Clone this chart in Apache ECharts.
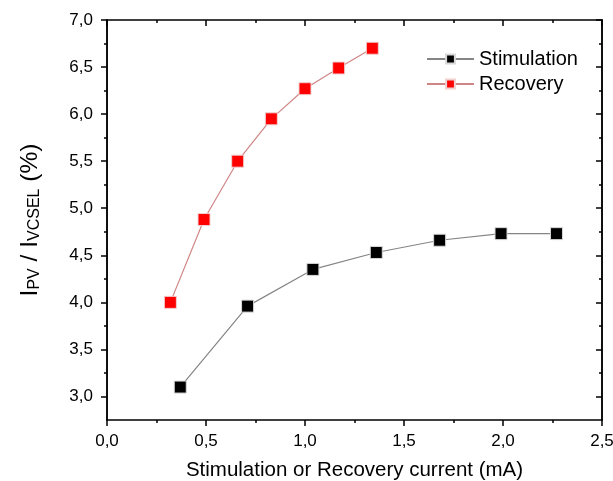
<!DOCTYPE html>
<html>
<head>
<meta charset="utf-8">
<script src="https://cdn.jsdelivr.net/npm/echarts@6/dist/echarts.min.js"></script>
<style>
  html, body { margin: 0; padding: 0; background: #fff; }
  #chart { width: 613px; height: 481px; }
</style>
</head>
<body>
<div id="chart"></div>
<script>
// Photovoltaic-to-VCSEL current ratio versus drive current
const stimCurrent = [0.37, 0.71, 1.04, 1.36, 1.68, 1.99, 2.27];
const stimRatio   = [3.10, 3.96, 4.35, 4.53, 4.66, 4.73, 4.73];
const recCurrent  = [0.32, 0.49, 0.66, 0.83, 1.00, 1.17, 1.34];
const recRatio    = [4.00, 4.88, 5.50, 5.95, 6.27, 6.49, 6.70];

const yMajorTicks = [3.0, 3.5, 4.0, 4.5, 5.0, 5.5, 6.0, 6.5, 7.0];
const yMinorTicks = [3.25, 3.75, 4.25, 4.75, 5.25, 5.75, 6.25, 6.75];

const FONT = '"Liberation Sans", Arial, sans-serif';
const comma = v => v.toFixed(1).replace('.', ',');
const zip = (xs, ys) => xs.map((x, i) => [x, ys[i]]);

const axisLine = { show: true, onZero: false, lineStyle: { color: '#000', width: 1.5 } };

function yAxisDef(position, ticks, len, inside, withLabels) {
  return {
    type: 'value', position, min: 2.75, max: 7.0,
    axisLine, splitLine: { show: false },
    axisTick: { show: true, inside, length: len, customValues: ticks,
                lineStyle: { color: '#000', width: 1.5 } },
    axisLabel: withLabels
      ? { show: true, customValues: ticks, formatter: comma, color: '#000',
          fontFamily: FONT, fontSize: 17, margin: 14 }
      : { show: false }
  };
}

function xAxisDef(position, inside, withLabels) {
  return {
    type: 'value', position, min: 0, max: 2.5, interval: 0.5,
    axisLine, splitLine: { show: false },
    axisTick: { show: true, inside, length: 6, lineStyle: { color: '#000', width: 1.5 } },
    minorTick: { show: true, splitNumber: 2, length: 3, lineStyle: { color: '#000', width: 1.5 } },
    axisLabel: withLabels
      ? { show: true, formatter: comma, color: '#000', fontFamily: FONT, fontSize: 17, margin: 13 }
      : { show: false }
  };
}

const chart = echarts.init(document.getElementById('chart'), null, { renderer: 'canvas' });

const xMain = xAxisDef('bottom', false, true);
xMain.name = 'Stimulation or Recovery current (mA)';
xMain.nameLocation = 'middle';
xMain.nameGap = 40;
xMain.nameTextStyle = { color: '#000', fontFamily: FONT, fontSize: 20.5 };

const yMain = yAxisDef('left', yMajorTicks, 6, false, true);
yMain.name = '{m|I}{s|PV}{m| / I}{s|VCSEL}{m| (%)}';
yMain.nameLocation = 'middle';
yMain.nameGap = 64;
yMain.nameTextStyle = {
  color: '#000', fontFamily: FONT,
  rich: {
    m: { fontSize: 24.5, fontFamily: FONT, color: '#000', lineHeight: 30, verticalAlign: 'bottom' },
    s: { fontSize: 16, fontFamily: FONT, color: '#000', lineHeight: 14, verticalAlign: 'bottom' }
  }
};

chart.setOption({
  backgroundColor: '#fff',
  animation: false,
  grid: { left: 107, right: 11, top: 20, bottom: 61, outerBoundsMode: 'none' },
  legend: {
    left: 421, top: 44, orient: 'vertical',
    itemWidth: 47, itemHeight: 11, itemGap: 5,
    textStyle: { color: '#000', fontFamily: FONT, fontSize: 20 },
    data: ['Stimulation', 'Recovery']
  },
  xAxis: [xMain, xAxisDef('top', true, false)],
  yAxis: [
    yMain,
    yAxisDef('left', yMinorTicks, 3, false, false),
    yAxisDef('right', yMajorTicks, 6, true, false),
    yAxisDef('right', yMinorTicks, 3, true, false)
  ],
  series: [
    {
      name: 'Stimulation', type: 'line', xAxisIndex: 0, yAxisIndex: 0,
      data: zip(stimCurrent, stimRatio),
      symbol: 'rect', symbolSize: 12,
      lineStyle: { color: '#858585', width: 1.2 },
      itemStyle: { color: '#000', borderColor: '#d8d8d8', borderWidth: 1 }
    },
    {
      name: 'Recovery', type: 'line', xAxisIndex: 0, yAxisIndex: 0,
      data: zip(recCurrent, recRatio),
      symbol: 'rect', symbolSize: 12,
      lineStyle: { color: '#d08585', width: 1.2 },
      itemStyle: { color: '#ff0000', borderColor: '#f0d0d0', borderWidth: 1 }
    }
  ]
});
</script>
</body>
</html>
